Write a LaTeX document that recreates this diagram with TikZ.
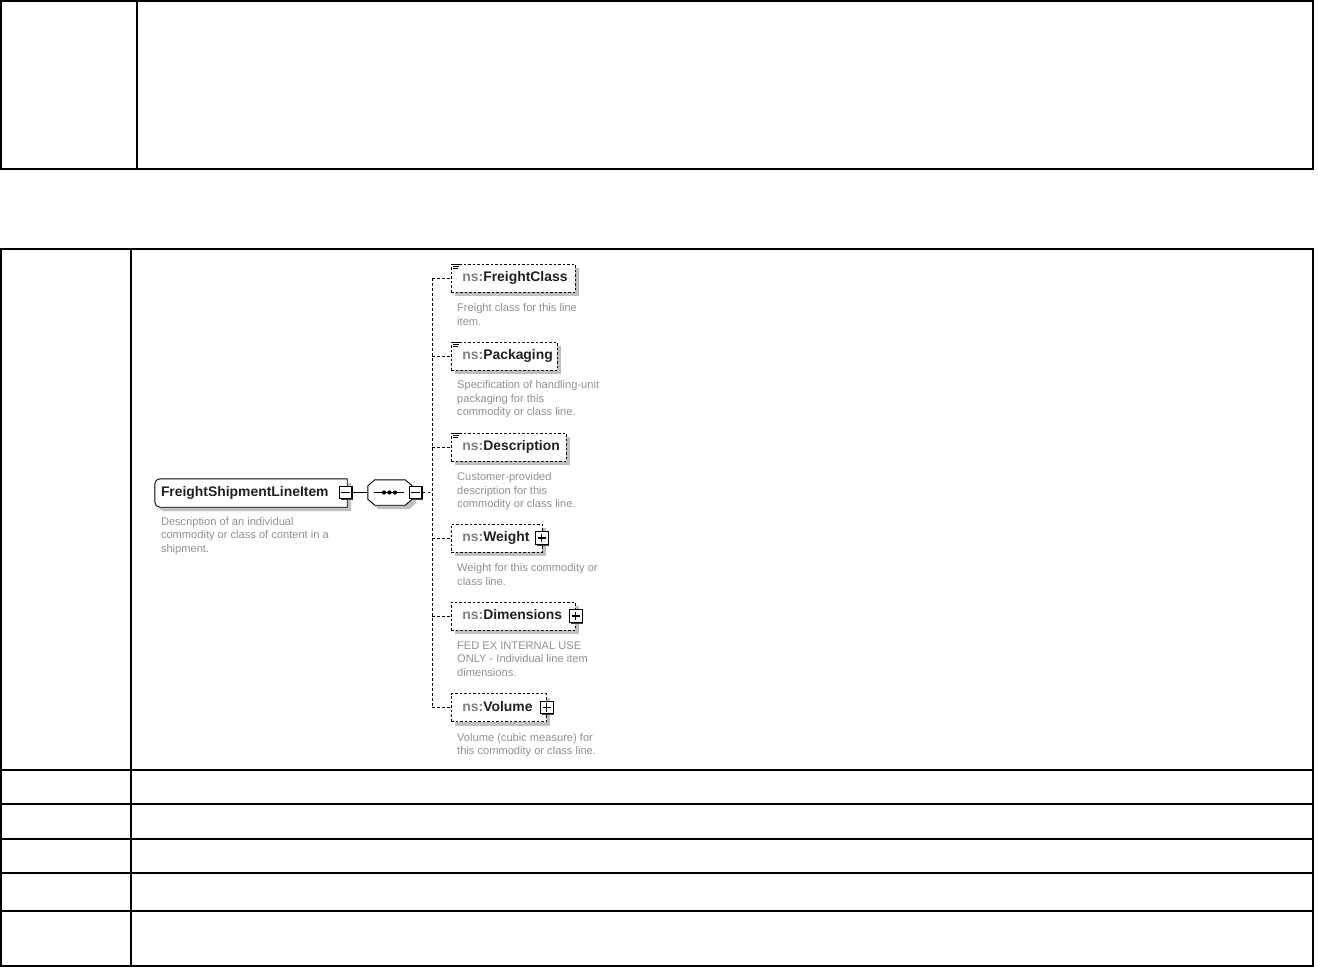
\documentclass[tikz,border=0pt]{standalone}
\usepackage{fontspec}
\setmainfont{Liberation Sans}
\usetikzlibrary{shadows,backgrounds,calc}
\definecolor{nsgray}{HTML}{808080}
\definecolor{descgray}{HTML}{909090}
\definecolor{shadowgray}{HTML}{C0C0C0}
\definecolor{namec}{HTML}{202020}
\newcommand{\elemlabel}[2]{\makebox[#1][l]{\hspace{11pt}\textcolor{nsgray}{ns:}#2}}
\begin{document}
\begin{tikzpicture}[x=1pt,y=-1pt,
  tbl/.style={line width=1.5pt},
  shadowed/.style={drop shadow={shadow xshift=4pt, shadow yshift=-4pt, fill=shadowgray, opacity=1}},
  namefont/.style={font=\fontsize{13.9}{16}\bfseries\selectfont, text=namec},
  elem/.style={draw, fill=white, line width=0.9pt, dash pattern=on 2.5pt off 2pt,
     minimum height=28pt, inner sep=0pt, text height=10pt, text depth=3pt,
     anchor=west, namefont, shadowed},
  mainbox/.style={minimum height=28pt, inner sep=0pt, text height=10pt, text depth=3pt, namefont},
  desc/.style={anchor=north west, inner sep=0pt, align=left,
     font=\fontsize{11.1}{13.5}\selectfont, text=descgray},
  tog/.style={draw, solid, fill=white, line width=1.1pt, minimum size=12.5pt, inner sep=0pt,
     drop shadow={shadow xshift=1.3pt, shadow yshift=-1.3pt, fill=black!75, opacity=1}},
  minus/.style={tog, path picture={\draw[line width=1.1pt] ([xshift=2pt]path picture bounding box.west) -- ([xshift=-2pt]path picture bounding box.east);}},
  plus/.style={tog, path picture={\draw[line width=1.1pt] ([xshift=2pt]path picture bounding box.west) -- ([xshift=-2pt]path picture bounding box.east)
      ([yshift=-2pt]path picture bounding box.north) -- ([yshift=2pt]path picture bounding box.south);}},
  conn/.style={line width=0.9pt},
  dconn/.style={line width=0.9pt, dash pattern=on 2.5pt off 2.5pt},
  icon/.style={line width=0.8pt, solid}
]
\useasboundingbox (0,0) rectangle (1318,967);

% ---- tables ----
\draw[tbl] (1,1) rectangle (1313,169);
\draw[tbl] (137,1) -- (137,169);
\draw[tbl] (1,249) rectangle (1313,966);
\draw[tbl] (131,249) -- (131,966);
\foreach \yy in {770,804,839,873,911} { \draw[tbl] (1,\yy) -- (1313,\yy); }

% ---- main element ----
\node[mainbox] (fsli) at (251,493) {\makebox[192pt][l]{\hspace{6pt}FreightShipmentLineItem}};
\node[desc] (fslid) at ($(fsli.south west)+(6,10)$) {Description of an individual\\commodity or class of content in a\\shipment.};

% ---- sequence compositor ----
\node[minimum width=44pt, minimum height=25pt, inner sep=0pt] (seq) at (390,492.5) {};

\begin{scope}[on background layer]
  \draw[fill=white, line width=0.9pt, shadowed]
    (fsli.south east) -- (fsli.north east) [rounded corners=5pt] -- (fsli.north west)
    -- (fsli.south west) [sharp corners] -- cycle;
  \draw[fill=white, line width=0.9pt, shadowed]
    ($(seq.north west)+(0,6)$) -- ($(seq.north west)+(7,0)$) -- ($(seq.north east)+(-7,0)$)
    -- ($(seq.north east)+(0,6)$) -- ($(seq.south east)+(0,-6)$) -- ($(seq.south east)+(-7,0)$)
    -- ($(seq.south west)+(7,0)$) -- ($(seq.south west)+(0,-6)$) -- cycle;
\end{scope}
\draw[line width=1pt] ($(seq.center)+(-16,0)$) -- ($(seq.center)+(14,0)$);
\foreach \dx in {-6,-0.5,5} { \fill ($(seq.center)+(\dx,0)$) circle (2.1pt); }

% ---- child elements ----
\node[elem] (fc)    at (451,278)   {\elemlabel{124pt}{FreightClass}};
\node[elem] (pkg)   at (451,356)   {\elemlabel{106pt}{Packaging}};
\node[elem] (descr) at (451,447)   {\elemlabel{115pt}{Description}};
\node[elem] (wgt)   at (451,538)   {\elemlabel{91pt}{Weight}};
\node[elem] (dim)   at (451,616)   {\elemlabel{124pt}{Dimensions}};
\node[elem] (vol)   at (451,707.5) {\elemlabel{95pt}{Volume}};

\foreach \n in {fc,pkg,descr} {
  \draw[icon] ($(\n.north west)+(2,0.6)$) -- +(6,0);
  \draw[icon] ($(\n.north west)+(2,2.9)$) -- +(6,0);
  \draw[icon] ($(\n.north west)+(2,5.2)$) -- +(5,0);
}

\node[desc] (fcd)    at ($(fc.south west)+(6,11)$)    {Freight class for this line\\item.};
\node[desc] (pkgd)   at ($(pkg.south west)+(6,10)$)   {Specification of handling-unit\\packaging for this\\commodity or class line.};
\node[desc] (descrd) at ($(descr.south west)+(6,11)$) {Customer-provided\\description for this\\commodity or class line.};
\node[desc] (wgtd)   at ($(wgt.south west)+(6,11)$)   {Weight for this commodity or\\class line.};
\node[desc] (dimd)   at ($(dim.south west)+(6,11)$)   {FED EX INTERNAL USE\\ONLY - Individual line item\\dimensions.};
\node[desc] (vold)   at ($(vol.south west)+(6,11)$)   {Volume (cubic measure) for\\this commodity or class line.};

% ---- toggles ----
\node[minus] (fsliT) at ($(fsli.east)+(-1.5,-0.5)$) {};
\node[minus] (seqT)  at ($(seq.east)+(3.5,0)$) {};
\node[plus]  (wgtT)  at ($(wgt.east)+(-1,0)$) {};
\node[plus]  (dimT)  at (dim.east) {};
\node[plus]  (volT)  at (vol.east) {};

% ---- connectors ----
\coordinate (hub) at (432,492.5);
\draw[conn] (fsliT.east) -- (seq.west |- fsliT.east);
\draw[dconn] (seqT.east) -- (hub);
\draw[dconn] (fc.west -| hub) -- (vol.west -| hub);
\foreach \n in {fc,pkg,descr,wgt,dim,vol} { \draw[dconn] (\n.west -| hub) -- (\n.west); }
\end{tikzpicture}
\end{document}
